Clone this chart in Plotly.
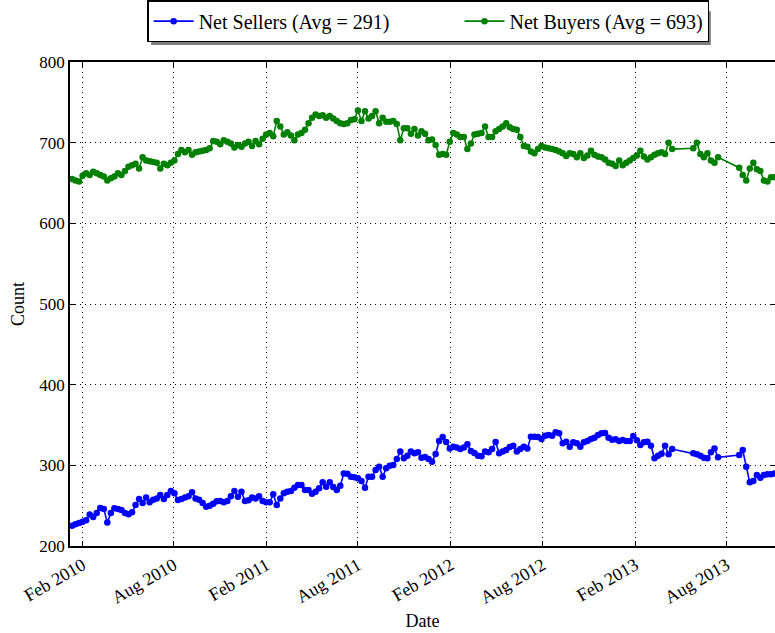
import pandas as pd
import plotly.graph_objects as go

# Weekly observation indices (weeks since 2010-01-11) that have data
week_index = list(range(0, 171)) + list(range(176, 184)) + list(range(189, 200))
start_date = "2010-01-11"

net_sellers = [
    225, 227, 228.5, 230, 232, 239, 236, 241, 247, 246,
    229, 241, 246.7, 246, 244.6, 241, 239.3, 241.7, 250.8, 258.3,
    253.3, 260, 254.1, 257.4, 259, 263.2, 258.3, 263.2, 268.2, 265.3,
    257, 258.3, 260, 261.6, 266.5, 259, 257.4, 253.3, 248.8, 250,
    252.5, 255.4, 255.8, 254.1, 255.8, 261.6, 268.2, 261.2, 267.4, 255.8,
    256.6, 260, 259, 261.6, 255.8, 254.1, 254.1, 264, 250.8, 259,
    265.3, 267.4, 268.2, 272.3, 275.6, 275.6, 269.4, 269.4, 264.9, 267.4,
    271.5, 278.9, 273.6, 278.9, 273.1, 269.4, 274.8, 290, 289.7, 286,
    285.1, 283.9, 280.6, 272.3, 286, 286, 294.2, 298.3, 286, 296.3,
    299.6, 300.4, 307.9, 317, 308.7, 312, 317, 314.9, 316.1, 309.5,
    310.3, 307.9, 304.5, 314, 330.2, 335, 329, 321, 323, 322,
    320.2, 322, 326, 317.8, 315.3, 312, 311.2, 317, 316.1, 320.2,
    329, 314.9, 317, 319, 322.7, 324.4, 317, 320.2, 323, 321,
    335.5, 335.5, 335, 332.6, 336.8, 337.6, 336.8, 340.9, 339.7, 327.3,
    329.3, 323, 328.5, 327.3, 323, 328.5, 330.2, 332.6, 334.3, 337.6,
    339.7, 340, 334.3, 331.8, 332.2, 330.2, 331.4, 330.2, 330.2, 336.4,
    331, 325.2, 328.5, 329.3, 324.4, 308.7, 312, 314.5, 324.4, 313.6,
    320.2,
    314.9, 313.6, 312, 309.5, 308.7, 316.1, 321, 310,
    312.8, 319, 298.3, 278.9, 280.6, 288, 284.7, 288, 288.8, 288.8, 290,
]

net_buyers = [
    655, 653, 652, 659, 662, 660, 664, 662, 660, 658,
    653, 656, 658, 662, 660, 665, 670, 672, 674, 668,
    682, 678, 677, 676, 675, 668, 674, 672, 675, 678,
    686, 691, 688, 691, 685, 688, 689, 690, 691, 693,
    702, 701, 698, 703, 701, 699, 694, 697, 695, 699,
    701, 696, 702, 698, 705, 710, 712, 708, 727, 720,
    710, 713, 709, 703, 710, 712, 716, 724, 731, 735,
    733, 734, 731, 733, 730, 727, 724, 723, 724, 728,
    729, 740, 727, 739, 730, 733, 739, 724, 731, 726,
    726, 727, 723, 703, 718, 718, 711, 717, 709, 714,
    711, 703, 704, 697, 685, 686, 685, 701, 712, 710,
    707, 707, 692, 699, 710, 711, 712, 720, 707, 707,
    714, 717, 720, 724, 719, 717, 716, 707, 696, 695,
    689, 687, 692, 696, 694, 693, 692, 691, 689, 687,
    683.5, 687, 686, 682, 687, 681, 684, 690, 685, 683,
    682, 679, 675, 674, 671, 678, 672, 675, 678, 681,
    684, 690, 683, 679, 682, 685, 687, 688, 686, 700,
    692,
    693, 700, 686, 682, 687, 678, 675, 682,
    669, 660, 653, 668, 675, 667, 665, 653, 652, 657, 657,
]

y_ticks = [200, 300, 400, 500, 600, 700, 800]
x_tick_dates = ["2010-02-01", "2010-08-01", "2011-02-01", "2011-08-01",
                "2012-02-01", "2012-08-01", "2013-02-01", "2013-08-01"]
x_tick_labels = ["Feb 2010", "Aug 2010", "Feb 2011", "Aug 2011",
                 "Feb 2012", "Aug 2012", "Feb 2013", "Aug 2013"]

dates = pd.Timestamp(start_date) + pd.to_timedelta([7 * w for w in week_index], unit="D")

FONT = "Liberation Serif"
PAD = "\u00a0" * 13  # gap between the two legend entries

fig = go.Figure()
fig.add_trace(go.Scatter(
    x=dates, y=net_sellers, mode="lines+markers",
    name="Net Sellers (Avg = 291)" + PAD,
    line=dict(color="#0000ff", width=1.6),
    marker=dict(color="#0000ff", size=6.5, symbol="circle"),
))
fig.add_trace(go.Scatter(
    x=dates, y=net_buyers, mode="lines+markers",
    name="Net Buyers (Avg = 693)",
    line=dict(color="#008000", width=1.6),
    marker=dict(color="#008000", size=6.5, symbol="circle"),
))

# legend drop shadow (paper coordinates of the plot box)
fig.add_shape(type="rect", xref="paper", yref="paper",
              x0=0.115, x1=0.909, y0=1.035, y1=1.105,
              fillcolor="#7f7f7f", line=dict(width=0), layer="above")

fig.update_layout(
    width=775, height=633,
    margin=dict(l=70, r=0, t=62, b=87, autoexpand=False),
    paper_bgcolor="white", plot_bgcolor="white",
    font=dict(family=FONT, size=17, color="black"),
    showlegend=True,
    legend=dict(
        orientation="h", x=0.508, xanchor="center", y=1.041, yanchor="bottom",
        bordercolor="black", borderwidth=1.5, bgcolor="white",
        font=dict(family=FONT, size=20),
        itemwidth=40,
    ),
)

fig.update_xaxes(
    range=["2010-01-07", "2013-11-05"], automargin=False,
    tickmode="array", tickvals=x_tick_dates, ticktext=x_tick_labels,
    tickangle=-30, tickfont=dict(family=FONT, size=18),
    ticks="inside", ticklen=5, tickcolor="black",
    showline=True, linecolor="black", linewidth=1.5, mirror="allticks",
    showgrid=True, gridcolor="black", griddash="1px,4px", gridwidth=1,
    zeroline=False,
    title=dict(text="Date", font=dict(family=FONT, size=18), standoff=8),
)
fig.update_yaxes(
    range=[200, 800], automargin=False, tickmode="array", tickvals=y_ticks,
    tickfont=dict(family=FONT, size=17),
    ticks="inside", ticklen=5, tickcolor="black",
    showline=True, linecolor="black", linewidth=1.5, mirror="allticks",
    showgrid=True, gridcolor="black", griddash="1px,4px", gridwidth=1,
    zeroline=False,
    title=dict(text="Count", font=dict(family=FONT, size=18), standoff=10),
)

# remove the page's default 8px body margin so the 775x633 figure fills the window
fig.write_html("out.html",
               config={"displayModeBar": False},
               post_script="document.body.style.margin='0';document.body.style.overflow='hidden';")
